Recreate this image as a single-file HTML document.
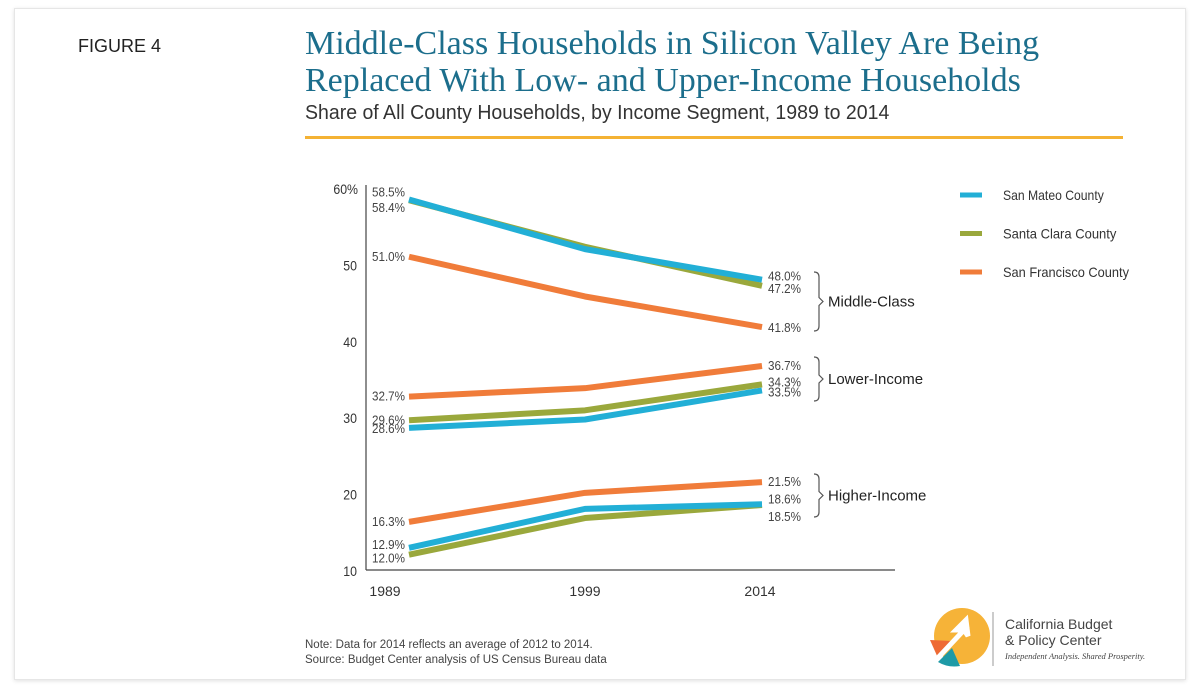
<!DOCTYPE html>
<html><head><meta charset="utf-8"><style>
body{margin:0;background:#fff;width:1200px;height:694px;overflow:hidden;font-family:"Liberation Sans",sans-serif}
#card{position:absolute;left:14px;top:8px;width:1170px;height:670px;border:1px solid #e6e6e6;box-shadow:0 1px 4px rgba(0,0,0,0.12);background:#fff}
.t{position:absolute;white-space:nowrap}
</style></head><body>
<div id="card"></div>
<div class="t" style="left:78px;top:36px;font-size:18px;color:#222">FIGURE 4</div>
<div class="t" style="left:305px;top:25px;font-family:'Liberation Serif',serif;font-size:34px;line-height:37px;color:#1c6e8c">Middle-Class Households in Silicon Valley Are Being<br>Replaced With Low- and Upper-Income Households</div>
<div class="t" style="left:305px;top:102px;font-size:20px;color:#333;transform:scaleX(0.975);transform-origin:left">Share of All County Households, by Income Segment, 1989 to 2014</div>
<div style="position:absolute;left:305px;top:136px;width:818px;height:3px;background:#f4b234"></div>
<svg id="chart" width="1200" height="694" style="position:absolute;left:0;top:0"></svg>
<div class="t" style="left:305px;top:638px;font-size:11.5px;line-height:15px;color:#444">Note: Data for 2014 reflects an average of 2012 to 2014.<br>Source: Budget Center analysis of US Census Bureau data</div>
<svg width="260" height="70" style="position:absolute;left:920px;top:600px">
<circle cx="42" cy="36" r="28" fill="#f6b338"/>
<path d="M10 40 L32 41 L18 58 Z" fill="#ee6a34"/>
<path d="M32 48 L40 66 Q28 68 18 62 Z" fill="#1e9aa6"/>
<path d="M14 62 L44 30 L36 30 L46 20 L48 36 L44 30" stroke="#fff" stroke-width="5" fill="#fff"/>
<line x1="73" y1="12" x2="73" y2="66" stroke="#999" stroke-width="1"/>
<text x="85" y="29" font-size="14" fill="#444" font-family="Liberation Sans">California Budget</text>
<text x="85" y="45" font-size="14" fill="#444" font-family="Liberation Sans">&amp; Policy Center</text>
<text x="85" y="59" font-size="8.5" fill="#444" font-style="italic" font-family="Liberation Serif">Independent Analysis. Shared Prosperity.</text>
</svg>
<script>
const years=['1989','1999','2014'];
const yTicks=[10,20,30,40,50,60];
const smMid=[58.5,52.0,48.0],scMid=[58.4,52.3,47.2],sfMid=[51.0,45.8,41.8];
const smLow=[28.6,29.7,33.5],scLow=[29.6,30.9,34.3],sfLow=[32.7,33.8,36.7];
const smHigh=[12.9,18.0,18.6],scHigh=[12.0,16.8,18.5],sfHigh=[16.3,20.1,21.5];
const seriesNames=['San Mateo County','Santa Clara County','San Francisco County'];
const colors=['#22afd6','#9aa83c','#f07c3a'];
const svg=document.getElementById('chart');const NS='http://www.w3.org/2000/svg';
function xs(i){return i==1?585:(i==0?409:762);}
function xl(i){return i==1?585:(i==0?385:760);}
function y(v){return 570-(v-10)*7.64;}
function mk(t,a,txt){const e=document.createElementNS(NS,t);for(const k in a)e.setAttribute(k,a[k]);if(txt!==undefined)e.textContent=txt;svg.appendChild(e);return e;}
let e=mk('line',{x1:366,y1:185,x2:366,y2:570,stroke:'#444','stroke-width':1.2});


e=mk('line',{x1:366,y1:570,x2:895,y2:570,stroke:'#444','stroke-width':1.2});


yTicks.forEach(v=>{const t=mk('text',{x:v==60?358:357,y:y(v)+6,'font-size':14,fill:'#333','text-anchor':'end',transform:`translate(${v==60?358:357},0) scale(0.88,1) translate(${v==60?-358:-357},0)`},v+(v==60?'%':''));

});
years.forEach((yr,i)=>{const t=mk('text',{x:xl(i),y:596,'font-size':14,fill:'#333','text-anchor':'middle'},yr);

});
const groups=[[smMid,scMid,sfMid,'middle'],[smLow,scLow,sfLow,'lower'],[smHigh,scHigh,sfHigh,'higher']];
const drawOrder=[1,0,2];
groups.forEach(g=>{drawOrder.forEach(s=>{const d=g[s].map((v,i)=>(i?'L':'M')+xs(i)+' '+y(v)).join(' ');
const p=mk('path',{d:d,fill:'none',stroke:colors[s],'stroke-width':6,'stroke-linejoin':'round'});

});});
function lab(xx,yy,txt){const t=mk('text',{x:xx,y:yy,'font-size':12.5,fill:'#444',textLength:33,lengthAdjust:'spacingAndGlyphs'},txt);

}
const f=v=>v.toFixed(1)+'%';
lab(372,y(smMid[0])-3,f(smMid[0]));lab(372,y(scMid[0])+12,f(scMid[0]));
lab(372,y(sfMid[0])+4,f(sfMid[0]));
lab(372,y(sfLow[0])+4,f(sfLow[0]));lab(372,y(scLow[0])+4,f(scLow[0]));lab(372,y(smLow[0])+5,f(smLow[0]));
lab(372,y(sfHigh[0])+4,f(sfHigh[0]));lab(372,y(smHigh[0])+1,f(smHigh[0]));lab(372,y(scHigh[0])+8,f(scHigh[0]));
lab(768,y(smMid[2])+1,f(smMid[2]));lab(768,y(scMid[2])+7,f(scMid[2]));lab(768,y(sfMid[2])+5,f(sfMid[2]));
lab(768,y(sfLow[2])+4,f(sfLow[2]));lab(768,y(scLow[2])+2,f(scLow[2]));lab(768,y(smLow[2])+6,f(smLow[2]));
lab(768,y(sfHigh[2])+4,f(sfHigh[2]));lab(768,y(smHigh[2])-1,f(smHigh[2]));lab(768,y(scHigh[2])+16,f(scHigh[2]));
function brace(y1,y2,txt,nm){const m=(y1+y2)/2;
const p=mk('path',{d:`M814 ${y1} Q819 ${y1} 819 ${y1+5} L819 ${m-4} L823 ${m} L819 ${m+4} L819 ${y2-5} Q819 ${y2} 814 ${y2}`,fill:'none',stroke:'#555','stroke-width':1.2});


const t=mk('text',{x:828,y:m+5,'font-size':15,fill:'#222'},txt);

}
brace(272,331,'Middle-Class','middle');brace(357,401,'Lower-Income','lower');brace(474,517,'Higher-Income','higher');
seriesNames.forEach((n,i)=>{const yy=195+i*38.5;
const r=mk('line',{x1:960,y1:yy,x2:982,y2:yy,stroke:colors[i],'stroke-width':5});


const t=mk('text',{x:1003,y:yy+5,'font-size':14,fill:'#333',textLength:n.length*6.3,lengthAdjust:'spacingAndGlyphs'},n);

});
</script>
</body></html>
